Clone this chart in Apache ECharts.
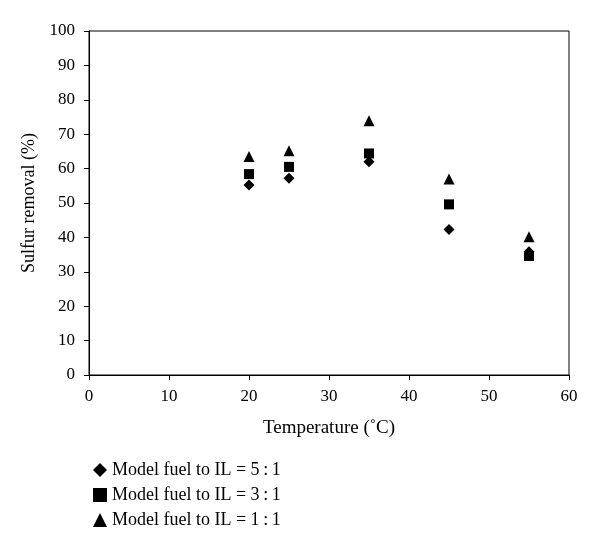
<!DOCTYPE html>
<html>
<head>
<meta charset="utf-8">
<title>Sulfur removal vs temperature</title>
<script src="https://cdn.jsdelivr.net/npm/echarts@6/dist/echarts.min.js"></script>
<style>
html, body { margin: 0; padding: 0; background: #fff; }
#chart { width: 600px; height: 553px; }
</style>
</head>
<body>
<div id="chart"></div>
<script>
// data
var temps = [20, 25, 35, 45, 55];
var ratio51 = [55.2, 57.2, 62.0, 42.3, 35.8];
var ratio31 = [58.4, 60.5, 64.4, 49.6, 34.6];
var ratio11 = [63.5, 65.2, 73.9, 57.0, 40.2];
var seriesNames = ['Model fuel to IL = 5\u2009:\u20091', 'Model fuel to IL = 3\u2009:\u20091', 'Model fuel to IL = 1\u2009:\u20091'];

var font = '"Liberation Serif", "DejaVu Serif", serif';

function pairs(ys) {
    return temps.map(function (t, i) { return [t, ys[i]]; });
}

var chart = echarts.init(document.getElementById('chart'));
var option = {
    animation: false,
    textStyle: { fontFamily: font, color: '#000' },
    grid: {
        left: 89, right: 31, top: 31, bottom: 178,
        show: true, borderColor: '#000', borderWidth: 1
    },
    legend: {
        orient: 'vertical',
        left: 88, top: 456,
        itemGap: 7,
        itemWidth: 14, itemHeight: 14,
        textStyle: { fontFamily: font, fontSize: 18, color: '#000' },
        data: [
            { name: seriesNames[0], icon: 'diamond' },
            { name: seriesNames[1], icon: 'rect' },
            { name: seriesNames[2], icon: 'triangle' }
        ]
    },
    xAxis: {
        type: 'value', min: 0, max: 60, interval: 10,
        name: 'Temperature (\u02daC)',
        nameLocation: 'middle', nameGap: 44,
        nameTextStyle: { fontFamily: font, fontSize: 19, color: '#000' },
        axisLine: { lineStyle: { color: '#000', width: 1 } },
        axisTick: { show: true, length: 5, lineStyle: { color: '#000' } },
        axisLabel: { fontFamily: font, fontSize: 17, color: '#000', margin: 13 },
        splitLine: { show: false }
    },
    yAxis: {
        type: 'value', min: 0, max: 100, interval: 10,
        name: 'Sulfur removal (%)',
        nameLocation: 'middle', nameGap: 48,
        nameTextStyle: { fontFamily: font, fontSize: 18, color: '#000' },
        axisLine: { show: true, lineStyle: { color: '#000', width: 1 } },
        axisTick: { show: true, length: 5, lineStyle: { color: '#000' } },
        axisLabel: { fontFamily: font, fontSize: 17, color: '#000', margin: 14 },
        splitLine: { show: false }
    },
    series: [
        {
            name: seriesNames[0], type: 'scatter', symbol: 'diamond', symbolSize: 11,
            itemStyle: { color: '#000', opacity: 1 }, data: pairs(ratio51)
        },
        {
            name: seriesNames[1], type: 'scatter', symbol: 'rect', symbolSize: 10,
            itemStyle: { color: '#000', opacity: 1 }, data: pairs(ratio31)
        },
        {
            name: seriesNames[2], type: 'scatter', symbol: 'triangle', symbolSize: 11,
            itemStyle: { color: '#000', opacity: 1 }, data: pairs(ratio11)
        }
    ]
};
chart.setOption(option);
</script>
</body>
</html>
